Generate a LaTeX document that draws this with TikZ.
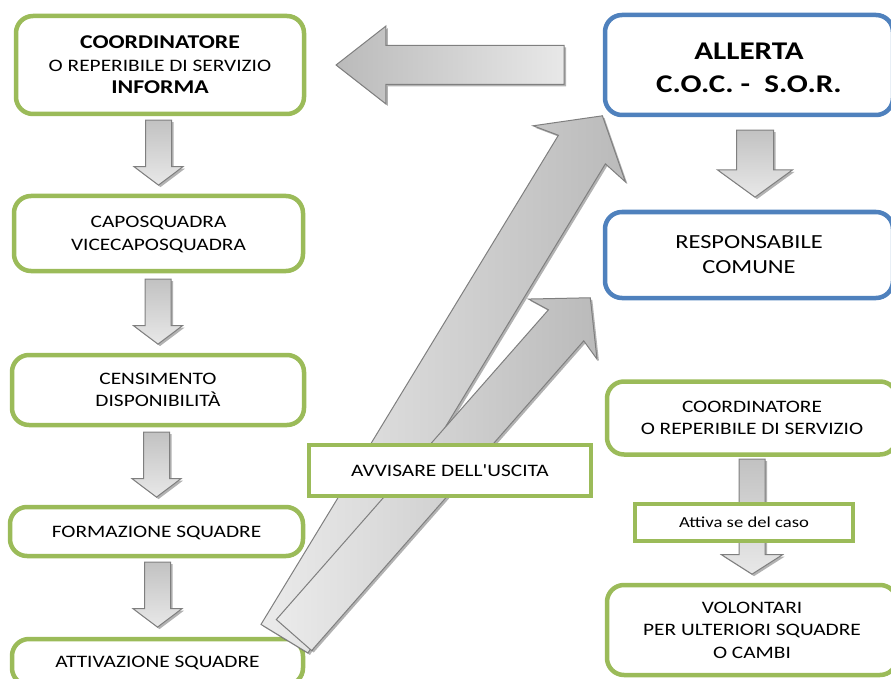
\documentclass[tikz,border=0pt]{standalone}
\usepackage{fontspec}
\setmainfont{Carlito}[FakeStretch=1.22, Ligatures=TeXOff]
\usepackage{tikz}
\usetikzlibrary{calc,shapes.arrows,shadows}
\definecolor{boxgreen}{HTML}{9BBB59}
\definecolor{boxblue}{HTML}{4F81BD}
\definecolor{arrowline}{HTML}{7F7F7F}
\tikzset{
	greenbox/.style={draw=boxgreen, line width=4.5pt, rounded corners=17pt,
		fill=white, align=center, inner sep=0pt, text depth=0pt,
		font=\fontsize{17.5}{22.5}\selectfont},
	bluebox/.style={greenbox, draw=boxblue},
	flatbox/.style={greenbox, rounded corners=0pt},
	blockarrow/.style={single arrow, draw=arrowline, line width=1pt,
		drop shadow={shadow xshift=2pt, shadow yshift=-2pt,
		opacity=0.3, fill=black}},
	downarrow/.style={blockarrow, shape border rotate=270, anchor=tip,
		top color=black!24, bottom color=black!9,
		minimum height=65pt, inner sep=12.5pt,
		single arrow head extend=11.5pt, single arrow tip angle=106},
	bigarrow/.style={blockarrow, anchor=tip, left color=black!8, right color=black!27}
}
\begin{document}
\begin{tikzpicture}[x=1pt,y=-1pt]
	\clip (0,0) rectangle (891,679);
	
	% left column
	\node[greenbox, minimum width=288pt, minimum height=98pt] (coordinf) at (160,65)
	{{\fontsize{19.5}{22.5}\selectfont\bfseries COORDINATORE}\\
		O REPERIBILE DI SERVIZIO\\
		{\fontsize{19.5}{22.5}\selectfont\bfseries INFORMA}};
	\node[greenbox, minimum width=289pt, minimum height=75pt] (capo) at (158.5,233.5)
	{CAPOSQUADRA\\VICECAPOSQUADRA};
	\node[greenbox, minimum width=292pt, minimum height=70pt] (censim) at (158,390)
	{CENSIMENTO\\DISPONIBILIT\`A};
	\node[greenbox, minimum width=293pt, minimum height=49pt] (formaz) at (156.5,531.5)
	{FORMAZIONE SQUADRE};
	\node[greenbox, minimum width=291pt, minimum height=46pt] (attiv) at (157.5,662)
	{ATTIVAZIONE SQUADRE};
	
	% right column
	\node[bluebox, minimum width=288pt, minimum height=100pt,
	font=\fontsize{25.5}{33}\selectfont\bfseries] (allerta) at (749,65)
	{\rule{0pt}{22pt}ALLERTA\\C.O.C. -\ \ S.O.R.};
	\node[bluebox, minimum width=288pt, minimum height=86pt,
	font=\fontsize{20}{25}\selectfont] (respcom) at (749,255)
	{RESPONSABILE\\COMUNE};
	\node[greenbox, minimum width=290pt, minimum height=73pt] (coordserv) at (752,418)
	{COORDINATORE\\O REPERIBILE DI SERVIZIO};
	\node[greenbox, minimum width=290pt, minimum height=90pt] (volont) at (752,630)
	{VOLONTARI\\PER ULTERIORI SQUADRE\\O CAMBI};
	
	% down arrows, left
	\node[downarrow] (dn1) at ($(capo.north)+(0,-8)$) {};
	\node[downarrow] (dn2) at ($(censim.north)+(0,-8)$) {};
	\node[downarrow] (dn3) at ($(formaz.north)+(0,-7)$) {};
	\node[downarrow] (dn4) at ($(attiv.north)+(0,-9)$) {};
	
	% down arrows, right
	\node[downarrow, minimum height=67pt, inner sep=18pt,
	single arrow head extend=19pt, single arrow tip angle=108] (dn5)
	at ($(respcom.north)+(6,-12)$) {};
	\node[downarrow, minimum height=115pt,
	single arrow head extend=17.5pt, single arrow tip angle=115] (dn6)
	at ($(volont.north)+(0,-8)$) {};
	\node[flatbox, minimum width=218pt, minimum height=37pt,
	font=\fontsize{15.3}{18}\selectfont] (attiva) at (744,522.5)
	{Attiva se del caso};
	
	% big arrow back to the coordinator
	\node[blockarrow, anchor=tip, shape border rotate=180,
	left color=black!27, right color=black!9,
	minimum height=228pt, inner sep=19pt,
	single arrow head extend=19.5pt, single arrow tip angle=76] (back)
	at ($(coordinf.east)+(29,0)$) {};
	
	% long arrows from the teams
	\node[bigarrow, rotate=58.7, minimum height=612pt, inner sep=27pt,
	single arrow head extend=26.5pt, single arrow tip angle=101,
	single arrow head indent=5pt] (upA) at ($(allerta.south west)+(0,-2)$) {};
	\node[bigarrow, rotate=48.7, minimum height=449pt, inner sep=23pt,
	single arrow head extend=22pt, single arrow tip angle=95,
	single arrow head indent=5pt] (upB) at ($(respcom.south west)+(-12,-3)$) {};
	
	\node[flatbox, minimum width=282pt, minimum height=51pt] (avvisa) at (450,470.5)
	{AVVISARE DELL'USCITA};
\end{tikzpicture}
\end{document}
